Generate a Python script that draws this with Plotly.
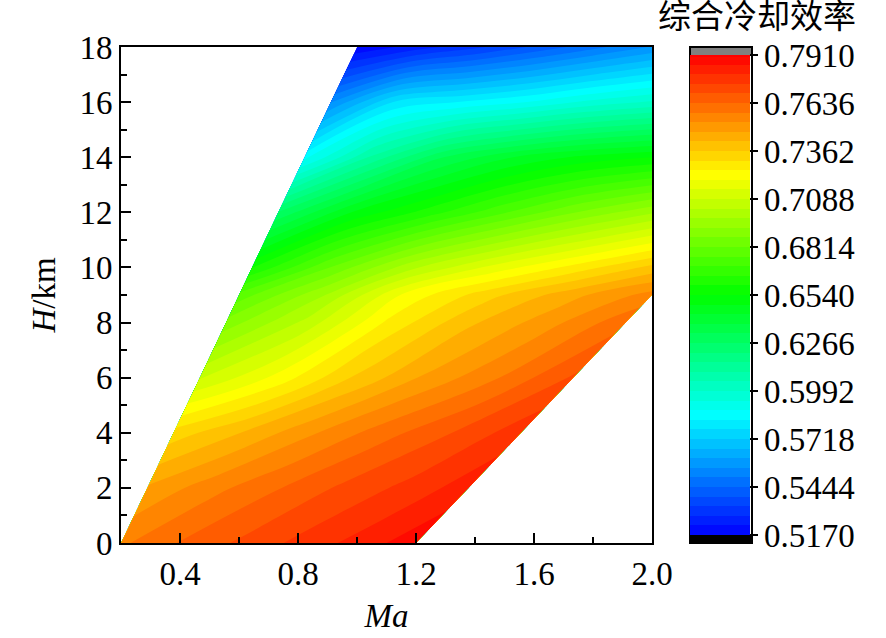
import plotly.graph_objects as go

# flight envelope: altitude rows (km) and the Ma range covered at each altitude
H_LEVELS = [0, 2, 4, 6, 8, 9, 10, 12, 14, 16, 18]
MA_LEFT = [0.200, 0.289, 0.378, 0.467, 0.556, 0.600, 0.644, 0.733, 0.822, 0.911, 1.000]
MA_RIGHT = [1.200, 1.378, 1.556, 1.733, 1.911, 2.000, 2.000, 2.000, 2.000, 2.000, 2.000]
# relative position across the envelope (0 = low-Ma edge, 1 = high-Ma edge)
SPAN = [0.0, 0.2, 0.4, 0.6, 0.8, 1.0]

# combined cooling efficiency, one row per altitude, one column per SPAN position
EFF = [
    [0.757, 0.764, 0.770, 0.776, 0.782, 0.789],
    [0.748, 0.756, 0.763, 0.770, 0.776, 0.783],
    [0.733, 0.742, 0.752, 0.761, 0.769, 0.778],
    [0.708, 0.721, 0.736, 0.748, 0.758, 0.770],
    [0.689, 0.705, 0.726, 0.740, 0.750, 0.762],
    [0.678, 0.697, 0.721, 0.734, 0.745, 0.755],
    [0.659, 0.682, 0.702, 0.716, 0.727, 0.738],
    [0.627, 0.649, 0.662, 0.675, 0.687, 0.697],
    [0.586, 0.612, 0.632, 0.643, 0.650, 0.654],
    [0.555, 0.578, 0.583, 0.588, 0.595, 0.600],
    [0.518, 0.525, 0.532, 0.540, 0.548, 0.556],
]

CB_TICKS = [0.5170, 0.5444, 0.5718, 0.5992, 0.6266, 0.6540,
            0.6814, 0.7088, 0.7362, 0.7636, 0.7910]
ZMIN, ZMAX, NLEV = 0.517, 0.791, 50

FONT = "Liberation Serif, Times New Roman, serif"
W, H = 886, 638
L, R, T, B = 121, 234, 47, 95
pw, ph = W - L - R, H - T - B

X = [[lo + s * (hi - lo) for s in SPAN] for lo, hi in zip(MA_LEFT, MA_RIGHT)]
Y = [[h] * len(SPAN) for h in H_LEVELS]

hidden = dict(showgrid=False, showline=False, showticklabels="none",
              startline=False, endline=False, minorgridcount=0, smoothing=0)

rainbow = [[0, "#0000ff"], [0.25, "#00ffff"], [0.5, "#00ff00"],
           [0.75, "#ffff00"], [1, "#ff0000"]]

fig = go.Figure()
fig.add_trace(go.Carpet(carpet="env", a=SPAN, b=H_LEVELS, x=X, y=Y,
                        aaxis=hidden, baxis=hidden))
fig.add_trace(go.Contourcarpet(
    carpet="env", a=SPAN, b=H_LEVELS, z=EFF,
    autocontour=False,
    contours=dict(start=ZMIN, end=ZMAX, size=(ZMAX - ZMIN) / NLEV,
                  coloring="fill", showlines=False),
    line=dict(width=0),
    colorscale=rainbow, zmin=ZMIN, zmax=ZMAX,
    colorbar=dict(
        x=(690 - L) / pw, xanchor="left", xpad=0,
        y=0.5, yanchor="middle", ypad=0,
        lenmode="pixels", len=480, thickness=60,
        outlinewidth=0,
        tickmode="array", tickvals=CB_TICKS,
        ticktext=["%.4f" % v for v in CB_TICKS],
        ticks="outside", ticklen=8, tickwidth=2, tickcolor="black",
        tickfont=dict(family=FONT, size=33, color="black"),
    ),
))

# out-of-range caps and frame of the colour bar
cx0, cx1 = (690 - L) / pw, (752 - L) / pw
cap = 8 / ph
fig.add_shape(type="rect", xref="paper", yref="paper", x0=cx0, x1=cx1,
              y0=1 - cap, y1=1, fillcolor="#808080", line_width=0)
fig.add_shape(type="rect", xref="paper", yref="paper", x0=cx0, x1=cx1,
              y0=0, y1=cap, fillcolor="black", line_width=0)
fig.add_shape(type="rect", xref="paper", yref="paper", x0=cx0, x1=cx1,
              y0=0, y1=1, line=dict(color="black", width=2))

fig.add_annotation(text="综合冷却效率", xref="paper", yref="paper",
                   x=(757 - L) / pw, y=(H - B - 17) / ph, showarrow=False,
                   xanchor="center", yanchor="middle",
                   font=dict(family="Liberation Serif, Noto Sans CJK SC", size=33,
                             color="black"))

axis_common = dict(showline=True, linewidth=2, linecolor="black", mirror=True,
                   ticks="inside", ticklen=10, tickwidth=2, tickcolor="black",
                   showgrid=False, zeroline=False,
                   tickfont=dict(family=FONT, size=33, color="black"))

fig.update_xaxes(range=[0.2, 2.0], tickmode="linear", tick0=0.4, dtick=0.4,
                 tickformat=".1f",
                 minor=dict(ticks="inside", ticklen=6, tickwidth=2,
                            tickcolor="black", tick0=0.2, dtick=0.2),
                 title=dict(text="<i>Ma</i>", font=dict(family=FONT, size=33,
                                                        color="black"),
                            standoff=13),
                 **axis_common)
fig.update_yaxes(range=[0, 18], tickmode="linear", tick0=0, dtick=2,
                 minor=dict(ticks="inside", ticklen=6, tickwidth=2,
                            tickcolor="black", tick0=0, dtick=1),
                 title=dict(text="<i>H</i>/km", font=dict(family=FONT, size=33,
                                                          color="black"),
                            standoff=14),
                 **axis_common)

fig.update_layout(width=W, height=H,
                  margin=dict(l=L, r=R, t=T, b=B, autoexpand=False),
                  paper_bgcolor="white", plot_bgcolor="white",
                  showlegend=False, font=dict(family=FONT, color="black"))

# the page's default body margin would shift the figure and add scrollbars
fig.write_html("out.html", config={"displayModeBar": False},
               post_script="document.body.style.margin='0';"
                           "document.body.style.overflow='hidden';"
                           "document.documentElement.style.overflow='hidden';")
